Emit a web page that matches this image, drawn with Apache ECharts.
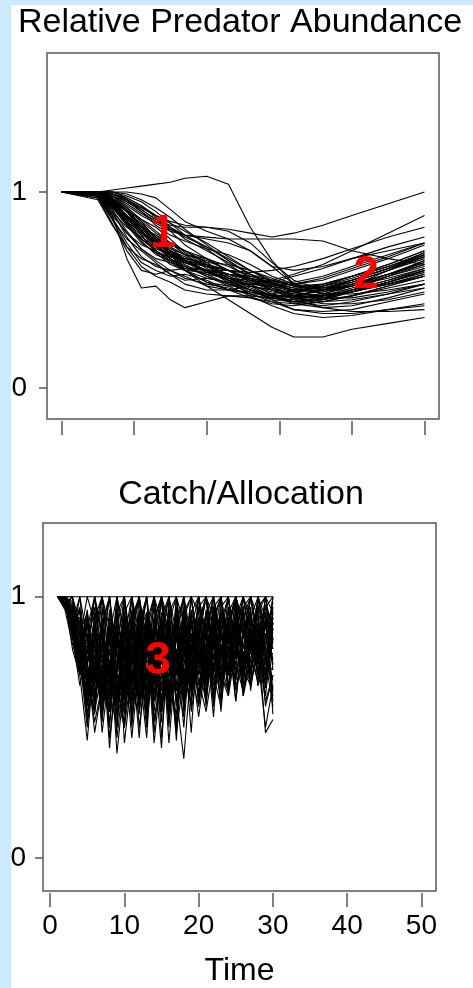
<!DOCTYPE html>
<html>
<head>
<meta charset="utf-8">
<script src="https://cdn.jsdelivr.net/npm/echarts@6/dist/echarts.min.js"></script>
<style>
  html, body { margin: 0; padding: 0; background: #fff; }
  #chart { width: 473px; height: 988px; }
</style>
</head>
<body>
<div id="chart"></div>
<script>
// time points
var T_TOP = [0, 5, 7, 9, 11, 13, 15, 17, 20, 23, 26, 29, 32, 36, 40, 45, 50];

// relative predator abundance, one row per simulation
var PRED = [
  // odd ones out
  [1, 1, 1.01, 1.02, 1.03, 1.04, 1.05, 1.07, 1.08, 1.04, .82, .65, .53, .48, .52, .6, .68],
  [1, 1, .99, .96, .92, .88, .85, .83, .82, .81, .79, .77, .79, .83, .88, .94, 1],
  [1, 1, .88, .66, .51, .52, .45, .41, .44, .47, .47, .46, .45, .47, .5, .55, .6],
  [1, .98, .86, .72, .62, .57, .54, .5, .48, .47, .46, .44, .43, .44, .47, .51, .55],
  [1, 1, .97, .9, .82, .75, .68, .6, .52, .45, .38, .31, .26, .26, .3, .33, .36],
  [1, 1, 1, 1, .99, .97, .91, .85, .8, .76, .7, .62, .6, .62, .66, .7, .74],
  [1, 1, .98, .93, .88, .84, .8, .78, .77, .76, .76, .76, .76, .75, .7, .66, .63],
  [1, 1, .96, .9, .83, .76, .7, .65, .6, .56, .54, .55, .58, .63, .7, .79, .88],
  [1, 1, .99, .95, .9, .85, .81, .78, .76, .74, .7, .62, .53, .48, .48, .5, .53],
  [1, 1, .99, .96, .91, .86, .83, .82, .82, .8, .74, .64, .55, .5, .5, .53, .57],
  [1, 1, .95, .87, .8, .74, .69, .65, .62, .6, .59, .6, .62, .66, .71, .77, .82],
  // fast decline
  [1, .97, .84, .7, .6, .58, .6, .57, .52, .5, .49, .46, .44, .45, .49, .54, .6],
  [1, .98, .87, .74, .64, .6, .57, .58, .55, .5, .46, .43, .42, .44, .47, .52, .57],
  [1, .96, .83, .72, .66, .63, .58, .53, .5, .5, .52, .5, .47, .48, .52, .58, .64],
  [1, .99, .9, .77, .67, .62, .6, .61, .58, .53, .49, .47, .47, .5, .55, .61, .67],
  [1, .97, .86, .76, .7, .64, .58, .55, .56, .54, .5, .45, .4, .39, .4, .44, .48],
  [1, .98, .88, .79, .71, .66, .64, .6, .54, .5, .48, .48, .5, .53, .57, .62, .68],
  [1, .99, .9, .82, .77, .72, .66, .6, .54, .52, .53, .52, .49, .47, .49, .54, .6],
  [1, .98, .92, .84, .75, .68, .65, .64, .6, .55, .5, .47, .47, .5, .55, .61, .69],
  [1, .99, .93, .83, .74, .69, .67, .65, .6, .54, .48, .45, .44, .46, .5, .55, .61],
  // medium decline
  [1, 1, .94, .86, .8, .74, .7, .67, .62, .56, .52, .5, .49, .5, .54, .6, .66],
  [1, 1, .93, .84, .78, .75, .7, .64, .6, .58, .55, .51, .47, .46, .49, .54, .6],
  [1, .99, .95, .88, .8, .72, .68, .66, .63, .6, .55, .5, .46, .43, .43, .45, .49],
  [1, 1, .96, .9, .83, .77, .72, .68, .66, .62, .57, .54, .54, .57, .62, .68, .74],
  [1, 1, .92, .85, .79, .76, .73, .7, .64, .57, .52, .49, .48, .49, .53, .58, .63],
  [1, .99, .94, .87, .82, .78, .72, .65, .6, .58, .57, .55, .52, .51, .54, .6, .67],
  [1, 1, .95, .9, .84, .77, .7, .66, .64, .63, .6, .56, .52, .5, .52, .57, .62],
  [1, 1, .93, .86, .8, .73, .67, .64, .62, .58, .53, .48, .44, .42, .44, .48, .53],
  [1, .99, .96, .91, .85, .79, .74, .7, .66, .6, .54, .5, .49, .52, .57, .63, .7],
  [1, 1, .94, .88, .82, .78, .74, .7, .63, .56, .51, .47, .44, .45, .49, .54, .59],
  [1, 1, .95, .87, .81, .75, .71, .68, .65, .6, .56, .53, .53, .55, .6, .66, .73],
  [1, .99, .93, .85, .79, .74, .69, .63, .57, .53, .5, .48, .46, .44, .45, .48, .51],
  [1, 1, .97, .9, .8, .7, .64, .62, .6, .55, .5, .47, .46, .47, .51, .57, .63],
  [1, 1, .96, .88, .78, .69, .63, .6, .59, .57, .52, .47, .43, .41, .42, .46, .51],
  [1, 1, .98, .92, .85, .76, .68, .62, .58, .56, .55, .53, .5, .49, .52, .58, .65],
  [1, 1, .97, .91, .83, .74, .66, .61, .6, .6, .58, .55, .52, .52, .55, .61, .67],
  // slow decline
  [1, 1, .99, .97, .93, .88, .82, .76, .7, .64, .58, .53, .5, .5, .53, .58, .64],
  [1, 1, 1, .98, .95, .9, .84, .78, .71, .63, .56, .51, .48, .47, .49, .53, .58],
  [1, 1, .99, .96, .92, .88, .84, .8, .74, .67, .6, .55, .52, .53, .57, .63, .7],
  [1, 1, 1, .97, .93, .87, .8, .73, .66, .6, .55, .52, .5, .51, .55, .61, .68],
  [1, 1, .98, .95, .91, .86, .81, .77, .72, .66, .6, .54, .49, .46, .46, .49, .53],
  [1, 1, 1, .99, .96, .92, .87, .81, .73, .65, .58, .53, .51, .52, .56, .62, .69],
  [1, 1, .99, .96, .9, .83, .78, .75, .71, .68, .63, .57, .53, .51, .52, .56, .61],
  [1, 1, .98, .94, .89, .85, .82, .78, .72, .65, .58, .52, .47, .45, .47, .52, .57],
  [1, 1, .95, .9, .86, .82, .76, .69, .62, .58, .56, .54, .51, .48, .49, .53, .58],
  // lower / upper edges of the bundle
  [1, .99, .91, .8, .71, .65, .6, .56, .53, .51, .48, .44, .4, .38, .38, .4, .43],
  [1, 1, .94, .85, .76, .7, .65, .6, .56, .54, .53, .54, .57, .61, .66, .72, .77],
  [1, .98, .89, .79, .73, .7, .66, .62, .57, .52, .47, .42, .38, .36, .37, .4, .42],
  [1, 1, .95, .88, .8, .73, .68, .65, .63, .6, .56, .5, .45, .41, .39, .39, .4],
  [1, 1, .97, .92, .86, .8, .74, .68, .61, .55, .5, .46, .44, .45, .5, .57, .65],
  [1, .99, .92, .83, .76, .71, .68, .64, .59, .55, .53, .52, .53, .56, .61, .67, .74]
];

// time points of the catch panel
var T_CATCH = [1, 2, 3, 4, 5, 6, 7, 8, 9, 10, 11, 12, 13, 14, 15, 16, 17, 18, 19, 20, 21, 22, 23, 24, 25, 26, 27, 28, 29, 30];

// catch / allocation, one row per simulation
var CATCH = [
  [1, 1, 1, 1, 1, 1, 1, 1, 1, 1, 1, 1, 1, 1, 1, 1, 1, 1, 1, 1, 1, 1, 1, 1, 1, 1, 1, 1, 1, 1],
  [1, .97, .9, .82, .66, .88, 1, .74, .58, 1, .8, .66, .93, .71, 1, .62, .85, 1, .77, .9, 1, .72, .86, 1, .8, .93, .78, 1, .88, .95],
  [1, 1, .95, .76, .93, .62, .8, 1, .7, .55, .9, 1, .68, .84, .52, 1, .73, .6, .95, .8, .66, 1, .82, .7, .96, .75, 1, .84, .7, .9],
  [1, .98, .84, 1, .72, .55, .96, .64, .88, .72, 1, .6, .78, 1, .69, .82, .45, .9, .7, 1, .84, .6, 1, .78, .88, .66, .9, .8, 1, .82],
  [1, 1, .88, .7, .45, .78, .64, .9, .5, .82, .66, 1, .55, .75, .9, .58, 1, .7, .84, .62, .95, .76, .68, .9, 1, .72, .85, .7, .92, .6],
  [1, .96, 1, .85, .78, 1, .7, .52, .85, .62, .95, .76, .88, .48, .8, .95, .64, .76, 1, .73, .6, .88, .75, 1, .68, .86, 1, .92, .76, 1],
  [1, 1, .92, .8, .6, .84, .48, .72, .96, .44, .7, .86, .62, 1, .58, .74, .92, .56, .8, .92, .7, .83, 1, .65, .82, .95, .72, .88, .65, .84],
  [1, .99, .86, .74, .92, .68, .88, .58, .74, .9, .52, .8, 1, .66, .86, .44, .78, .95, .62, .84, 1, .7, .58, .86, .74, 1, .8, .74, .97, .72],
  [1, 1, .97, .9, .7, .52, .66, .95, .62, .76, .88, .5, .72, .84, .98, .68, .55, .82, .9, .58, .78, .92, .85, .72, .9, .78, .66, 1, .84, .9],
  [1, .95, .82, .72, .86, .74, .56, .84, .4, .68, .84, .72, .46, .9, .74, .86, .62, .38, .74, .86, .62, .9, .7, .84, .6, .85, .93, .76, .5, .66],
  [1, 1, .9, .95, .65, .9, .78, .62, .88, .58, .74, .95, .82, .6, .78, .55, .88, .72, .58, .96, .85, .54, .92, .8, .98, .7, .84, .95, .8, .78],
  [1, .97, .93, .78, .55, .7, .9, .46, .7, .92, .64, .55, .88, .74, .42, .9, .7, .88, .66, .74, .92, .8, .66, .94, .86, .62, .76, .86, .94, .55],
  [1, 1, .85, .66, .8, .96, .62, .8, .66, .52, .8, .9, .58, .78, .92, .66, .8, .5, .86, .7, .88, .62, .95, .7, .78, .9, .68, .78, .72, .96],
  [1, .98, .96, .88, .74, .58, .82, .68, .92, .78, .46, .74, .94, .56, .84, .76, .52, .92, .76, .54, .76, .96, .74, .64, .92, .8, .96, .66, .86, .74],
  [1, 1, .9, .76, .5, .76, .6, .9, .54, .86, .7, .82, .64, .92, .6, .88, .7, .84, .48, .88, .68, .86, .6, .9, .66, .74, .9, .82, .62, .88],
  [1, .96, .88, .92, .84, .64, .74, .56, .8, .66, .94, .58, .8, .7, .88, .5, .94, .66, .82, .68, .56, .74, .88, .76, .84, .64, .8, .9, .78, .68],
  [1, 1, .94, .82, .62, .92, .54, .76, .6, .9, .56, .68, .86, .44, .72, .84, .6, .8, .94, .6, .8, .68, .78, .96, .7, .86, .76, .68, .9, .86],
  [1, .99, .8, .7, .9, .56, .84, .42, .76, .62, .86, .78, .5, .8, .66, .92, .78, .64, .9, .78, .9, .58, .82, .66, .92, .76, .88, .8, .66, .92],
  [1, 1, .92, .86, .58, .8, .7, .88, .46, .72, .6, .94, .7, .62, .82, .56, .86, .7, .6, .82, .72, .94, .64, .8, .72, .96, .64, .86, .8, .62],
  [1, .97, .86, .7, .76, .48, .66, .78, .9, .64, .78, .46, .84, .76, .56, .78, .66, .96, .72, .64, .86, .76, .9, .62, .88, .68, .92, .74, .92, .8],
  [1, 1, .98, .84, .68, .86, .76, .6, .72, .98, .5, .86, .6, .9, .8, .62, .9, .58, .8, .9, .6, .84, .72, .86, .64, .82, .7, .94, .58, .7],
  [1, .98, .9, .78, .95, .7, .9, .68, .56, .8, .7, .62, .92, .52, .7, .96, .58, .74, .86, .7, .94, .66, .8, .74, .9, .62, .86, .72, .84, .9],
  [1, 1, .84, .74, .6, .74, .58, .84, .68, .5, .9, .74, .56, .86, .64, .7, .84, .62, .7, .92, .76, .9, .56, .88, .76, .92, .82, .66, .76, .58],
  [1, .99, .94, .9, .8, .66, .86, .5, .82, .7, .58, .88, .76, .68, .94, .52, .76, .88, .56, .76, .64, .78, .86, .7, .96, .74, .7, .88, .68, .94],
  [1, 1, .87, .8, .52, .88, .68, .74, .86, .6, .82, .66, .9, .6, .76, .88, .68, .54, .92, .66, .82, .7, .92, .76, .68, .88, .78, .96, .88, .76],
  [1, .97, .92, .72, .7, .6, .92, .64, .5, .94, .68, .84, .52, .82, .56, .8, .94, .76, .64, .86, .58, .92, .68, .84, .8, .7, .94, .76, .7, .84],
  [1, 1, .9, .94, .64, .82, .52, .86, .78, .56, .76, .9, .66, .74, .9, .6, .72, .92, .7, .58, .88, .64, .76, .92, .6, .88, .66, .82, .94, .64],
  [1, .99, .96, .86, .82, .72, .8, .7, .64, .84, .6, .7, .84, .64, .78, .72, .86, .64, .84, .74, .9, .82, .7, .64, .86, .78, .88, .7, .82, .98],
  [1, 1, .93, .76, .56, .68, .76, .56, .94, .74, .66, .8, .7, .88, .46, .82, .64, .8, .68, .8, .7, .96, .84, .78, .74, .64, .76, .9, .74, .72],
  [1, .98, .86, .82, .74, .9, .6, .8, .7, .66, .86, .56, .76, .96, .7, .58, .96, .7, .78, .62, .82, .74, .62, .88, .82, .94, .72, .84, .48, .53],
  [1, 1, .95, .88, .66, .56, .72, .66, .84, .78, .54, .92, .64, .7, .86, .74, .5, .86, .64, .88, .66, .88, .78, .7, .94, .7, .82, .76, .86, .8],
  [1, 1, 1, .9, .78, 1, .84, .66, 1, .8, .62, .9, 1, .7, .88, 1, .74, .92, 1, .8, .94, 1, .86, .76, 1, .9, .8, 1, .92, .86],
  [1, .98, .9, 1, .84, .6, .9, 1, .72, .94, 1, .78, .6, .92, 1, .8, .92, .68, 1, .94, .8, .9, 1, .84, .92, 1, .86, .94, 1, .74],
  [1, 1, .96, .84, 1, .9, .66, .86, 1, .62, .88, 1, .84, .7, 1, .9, .58, 1, .84, .96, 1, .76, .9, 1, .8, .96, 1, .86, .8, 1],
  [1, .99, .92, .8, .88, 1, .76, .6, .9, 1, .74, .86, 1, .6, .84, 1, .86, .76, .94, 1, .7, .96, 1, .82, .9, .8, 1, .78, .9, .96],
  [1, 1, .94, .9, .7, .82, 1, .88, .64, .84, 1, .7, .9, 1, .8, .64, 1, .9, .7, .84, 1, .86, .72, .94, 1, .84, .92, 1, .76, .9],
  [1, .97, 1, .76, .62, .94, .8, 1, .78, .6, .92, 1, .7, .86, 1, .72, .9, 1, .78, .96, .84, 1, .8, .9, 1, .76, .88, .96, 1, .84],
  [1, 1, .9, .86, .94, .72, 1, .82, .94, 1, .68, .84, 1, .78, .6, .94, 1, .8, .88, 1, .74, .92, 1, .72, .86, 1, .92, .8, .96, 1],
  [1, .99, .95, .78, .84, 1, .86, .7, 1, .86, .92, .64, .86, 1, .9, .76, .84, 1, .66, .9, 1, .8, .94, .86, 1, .9, .7, 1, .84, .92],
  [1, 1, .88, .96, .74, .86, .62, .92, .8, 1, .76, .94, .68, .9, 1, .84, .7, .94, 1, .76, .88, 1, .66, .9, .84, 1, .82, .92, .7, .88],
  [1, .98, .93, .82, .9, .66, .88, 1, .6, .9, .84, 1, .8, .66, .92, 1, .78, .9, .74, 1, .86, .7, .96, 1, .78, .92, 1, .84, .96, .9],
  [1, 1, .97, .88, .76, .92, 1, .72, .88, .7, 1, .86, .94, .8, .7, .9, 1, .6, .9, .86, 1, .92, .78, .88, 1, .86, .94, .76, 1, .94],
  [1, .96, .89, .74, .58, .78, .7, .84, .62, .5, .72, .6, .82, .54, .66, .74, .48, .7, .6, .78, .66, .84, .7, .62, .8, .72, .66, .8, .6, .7]
];

var X_TICKS = [0, 10, 20, 30, 40, 50];
var Y_TICKS = [0, 1];

var FONT = 'Liberation Sans, Arial, sans-serif';
var BOX = '#555';

var chart = echarts.init(document.getElementById('chart'));

var series = [];
PRED.forEach(function (row) {
  series.push({
    type: 'line', xAxisIndex: 0, yAxisIndex: 0,
    data: T_TOP.map(function (t, i) { return [t, row[i]]; }),
    symbol: 'none', silent: true,
    lineStyle: { color: '#000', width: 1.1 }
  });
});
CATCH.forEach(function (row) {
  series.push({
    type: 'line', xAxisIndex: 1, yAxisIndex: 1,
    data: T_CATCH.map(function (t, i) { return [t, row[i]]; }),
    symbol: 'none', silent: true,
    lineStyle: { color: '#000', width: 1.1 }
  });
});

function xAxis(idx, min, max, withLabels) {
  return {
    gridIndex: idx, type: 'value', min: min, max: max, offset: 2,
    axisLine: { show: false, onZero: false },
    splitLine: { show: false },
    axisTick: { length: 14, customValues: X_TICKS, lineStyle: { color: BOX, width: 1.5 } },
    axisLabel: withLabels
      ? { customValues: X_TICKS, fontSize: 28, color: '#000', fontFamily: FONT, margin: 19 }
      : { show: false },
    name: withLabels ? 'Time' : '',
    nameLocation: 'middle', nameGap: 62,
    nameTextStyle: { fontSize: 32, color: '#000', fontFamily: FONT }
  };
}
function yAxis(idx, min, max, margin) {
  return {
    gridIndex: idx, type: 'value', min: min, max: max,
    axisLine: { show: false, onZero: false },
    splitLine: { show: false },
    axisTick: { length: 8, customValues: Y_TICKS, lineStyle: { color: BOX, width: 1.5 } },
    axisLabel: { customValues: Y_TICKS, fontSize: 28, color: '#000', fontFamily: FONT, margin: margin }
  };
}

chart.setOption({
  animation: false,
  backgroundColor: '#fff',
  grid: [
    { left: 47, top: 53, right: 34, height: 366, show: true, borderColor: BOX, borderWidth: 1.5 },
    { left: 43, top: 523, right: 37, height: 369, show: true, borderColor: BOX, borderWidth: 1.5 }
  ],
  xAxis: [xAxis(0, -2, 52, false), xAxis(1, -0.96, 51.96, true)],
  yAxis: [yAxis(0, -0.158, 1.709, 20), yAxis(1, -0.126, 1.282, 17)],
  series: series,
  graphic: [
    { type: 'rect', shape: { x: 0, y: 0, width: 11, height: 988 }, style: { fill: '#cde9fc' }, silent: true },
    { type: 'rect', shape: { x: 0, y: 0, width: 473, height: 5 }, style: { fill: '#cde9fc' }, silent: true },
    { type: 'text', x: 240, y: 23, style: { text: 'Relative Predator Abundance', font: '34px ' + FONT, fill: '#000', textAlign: 'center', textVerticalAlign: 'middle' } },
    { type: 'text', x: 241, y: 495, style: { text: 'Catch/Allocation', font: '34px ' + FONT, fill: '#000', textAlign: 'center', textVerticalAlign: 'middle' } },
    { type: 'text', x: 163, y: 234, z: 100, style: { text: '1', font: 'bold 46px ' + FONT, fill: '#ff0000', textAlign: 'center', textVerticalAlign: 'middle' } },
    { type: 'text', x: 366, y: 275, z: 100, style: { text: '2', font: 'bold 46px ' + FONT, fill: '#ff0000', textAlign: 'center', textVerticalAlign: 'middle' } },
    { type: 'text', x: 158, y: 661, z: 100, style: { text: '3', font: 'bold 46px ' + FONT, fill: '#ff0000', textAlign: 'center', textVerticalAlign: 'middle' } }
  ]
});
</script>
</body>
</html>
